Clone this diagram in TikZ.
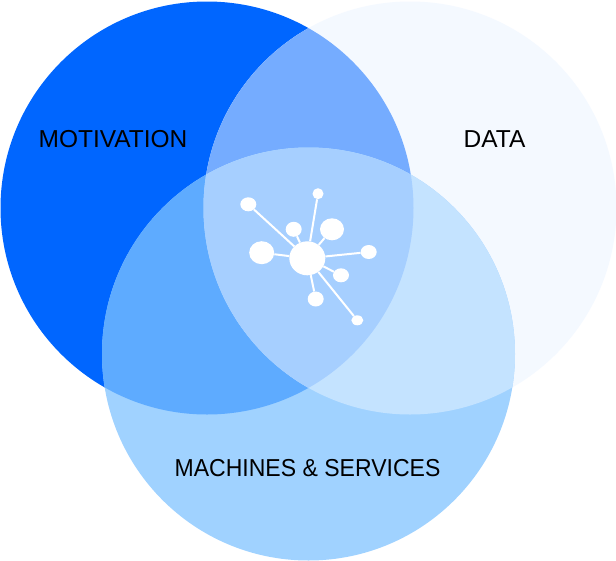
\documentclass[tikz,border=0pt]{standalone}
\usepackage{fontspec}
\setmainfont{Liberation Sans}
\newfontfamily\narrowfont[FakeStretch=0.94]{Liberation Sans}
\usetikzlibrary{shapes.geometric}
\definecolor{cA}{HTML}{0066FF}
\definecolor{cB}{HTML}{F4F9FF}
\definecolor{cC}{HTML}{A0D2FF}
\definecolor{cAB}{HTML}{75ACFF}
\definecolor{cAC}{HTML}{5EABFF}
\definecolor{cBC}{HTML}{C4E3FF}
\definecolor{cABC}{HTML}{A6CFFF}
\tikzset{
  blob/.style={ellipse,fill=white,draw=none,inner sep=0pt,minimum width=#1},
  spoke/.style={draw=white,line width=2pt},
  lab/.style={text=black,font=\fontsize{24.5}{28}\selectfont,inner sep=0pt,anchor=base}
}
\newcommand{\circA}{(207,208) circle [radius=206.5]}
\newcommand{\circB}{(410,208) circle [radius=206.5]}
\newcommand{\circC}{(308.5,354) circle [radius=206.5]}
\begin{document}
\begin{tikzpicture}[x=1pt,y=-1pt]
\useasboundingbox (0,0) rectangle (616,560);
\fill[white] (0,0) rectangle (616,560);
\fill[cA] \circA;
\fill[cB] \circB;
\fill[cC] \circC;
\begin{scope}\clip \circA; \fill[cAB] \circB; \fill[cAC] \circC; \end{scope}
\begin{scope}\clip \circB; \fill[cBC] \circC; \end{scope}
\begin{scope}\clip \circA; \clip \circB; \fill[cABC] \circC; \end{scope}
\node[lab] (motivation) at (113,147) {MOTIVATION};
\node[lab] (data) at (494.5,147) {DATA};
\node[lab] (machines) at (307.5,476) {\narrowfont MACHINES \& SERVICES};
\node[blob=36pt,minimum height=34pt] (hub) at (307.3,258.3) {};
\node[blob=16pt,minimum height=14pt] (n1) at (248.3,204.3) {};
\node[blob=11pt,minimum height=11pt] (n2) at (318,193.7) {};
\node[blob=16pt,minimum height=15pt] (n3) at (293.7,229.3) {};
\node[blob=24pt,minimum height=22pt] (n4) at (332,229.3) {};
\node[blob=25pt,minimum height=23pt] (n5) at (261.7,252.7) {};
\node[blob=16pt,minimum height=14pt] (n6) at (368.7,252) {};
\node[blob=16pt,minimum height=14pt] (n7) at (341,275.3) {};
\node[blob=16pt,minimum height=15pt] (n8) at (315.7,299) {};
\node[blob=12pt,minimum height=10pt] (n9) at (357.3,320.3) {};
\foreach \n in {n1,n2,n3,n4,n5,n6,n7,n8,n9} \draw[spoke] (hub) -- (\n);
\end{tikzpicture}
\end{document}
